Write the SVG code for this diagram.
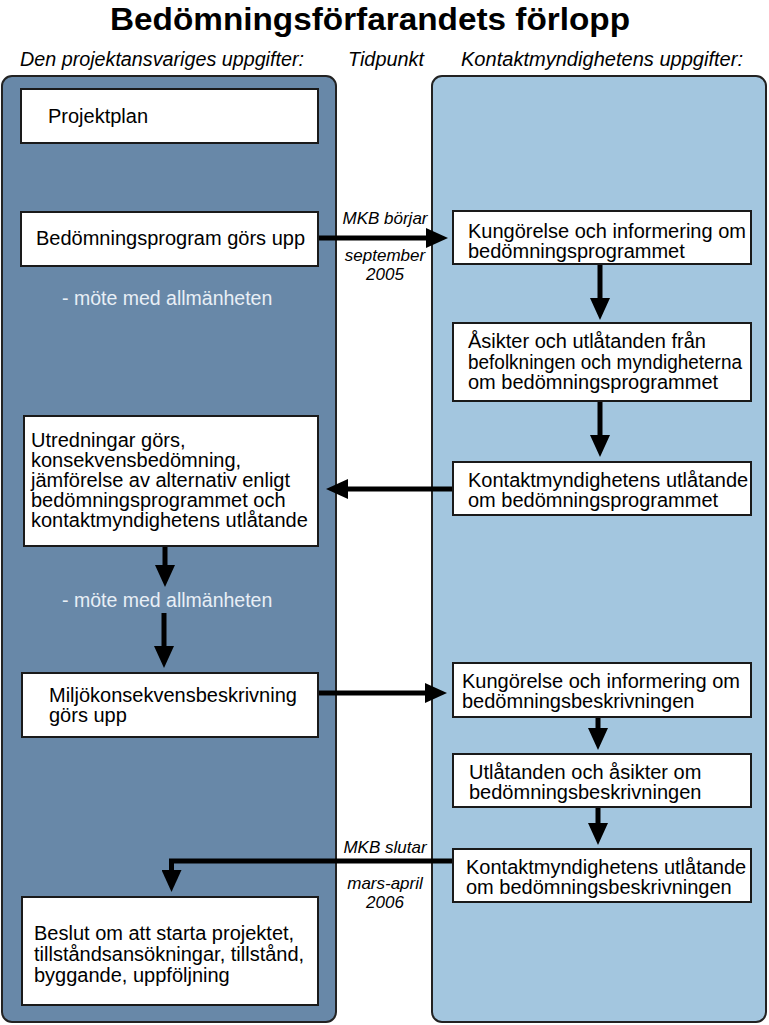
<svg xmlns="http://www.w3.org/2000/svg" width="769" height="1025" viewBox="0 0 769 1025">
<style>
.t{font-family:"Liberation Sans",Arial,sans-serif;font-size:20px;fill:#000}
.h{font-family:"Liberation Sans",Arial,sans-serif;font-size:20px;font-style:italic;fill:#000}
.m{font-family:"Liberation Sans",Arial,sans-serif;font-size:17px;font-style:italic;fill:#000}
.w{font-family:"Liberation Sans",Arial,sans-serif;font-size:19.5px;fill:#e8eff6}
.box{fill:#fff;stroke:#1a1a1a;stroke-width:2}
.c{fill:none;stroke:#000;stroke-width:5}
</style>
<defs>
<marker id="ah" markerUnits="userSpaceOnUse" viewBox="0 0 22 20" refX="1" refY="10" markerWidth="22" markerHeight="20" orient="auto">
<path d="M0,0 L22,10 L0,20 Z" fill="#000"/>
</marker>
</defs>
<rect width="769" height="1025" fill="#fff"/>
<text x="110" y="30" font-family="'Liberation Sans',Arial,sans-serif" font-size="32" font-weight="bold" textLength="520" lengthAdjust="spacingAndGlyphs">Bedömningsförfarandets förlopp</text>
<text class="h" x="20" y="66" textLength="284" lengthAdjust="spacingAndGlyphs">Den projektansvariges uppgifter:</text>
<text class="h" x="348" y="66" textLength="76" lengthAdjust="spacingAndGlyphs">Tidpunkt</text>
<text class="h" x="461" y="66" textLength="282" lengthAdjust="spacingAndGlyphs">Kontaktmyndighetens uppgifter:</text>
<g id="panel-left"><rect x="2" y="76" width="334" height="946" rx="10" fill="#6888a8" stroke="#222" stroke-width="2"/></g>
<g id="panel-right"><rect x="432" y="76" width="334" height="946" rx="10" fill="#a3c6df" stroke="#222" stroke-width="2"/></g>
<g id="connectors">
<path class="c" d="M318,238 H427" marker-end="url(#ah)"/>
<path class="c" d="M600,264 V299" marker-end="url(#ah)"/>
<path class="c" d="M600,401 V436" marker-end="url(#ah)"/>
<path class="c" d="M453,489 H347" marker-end="url(#ah)"/>
<path class="c" d="M165,546 V566" marker-end="url(#ah)"/>
<path class="c" d="M164,613 V647" marker-end="url(#ah)"/>
<path class="c" d="M318,693 H426" marker-end="url(#ah)"/>
<path class="c" d="M598,717 V729" marker-end="url(#ah)"/>
<path class="c" d="M598,807 V824" marker-end="url(#ah)"/>
<path class="c" d="M453,861 H171.5 V871" marker-end="url(#ah)"/>
</g>
<g id="labels">
<text class="m" x="385" y="224" text-anchor="middle">MKB börjar</text>
<text class="m" x="385" y="261" text-anchor="middle">september</text>
<text class="m" x="385" y="280" text-anchor="middle">2005</text>
<text class="m" x="385" y="853" text-anchor="middle">MKB slutar</text>
<text class="m" x="385" y="889" text-anchor="middle">mars-april</text>
<text class="m" x="385" y="908" text-anchor="middle">2006</text>
<text class="w" x="62" y="305">- möte med allmänheten</text>
<text class="w" x="62" y="607">- möte med allmänheten</text>
</g>
<g id="n-projektplan"><rect class="box" x="21" y="89" width="297" height="54"/><text class="t" x="48" y="123">Projektplan</text></g>
<g id="n-bedprog"><rect class="box" x="21" y="212" width="297" height="54"/><text class="t" x="36" y="245">Bedömningsprogram görs upp</text></g>
<g id="n-utredningar"><rect class="box" x="24" y="416" width="294" height="130"/><text class="t"><tspan x="31" y="447">Utredningar görs,</tspan><tspan x="31" y="467">konsekvensbedömning,</tspan><tspan x="31" y="487">jämförelse av alternativ enligt</tspan><tspan x="31" y="507">bedömningsprogrammet och</tspan><tspan x="31" y="527">kontaktmyndighetens utlåtande</tspan></text></g>
<g id="n-miljo"><rect class="box" x="22" y="673" width="296" height="64"/><text class="t"><tspan x="49" y="702">Miljökonsekvensbeskrivning</tspan><tspan x="49" y="722">görs upp</tspan></text></g>
<g id="n-beslut"><rect class="box" x="22" y="897" width="296" height="108"/><text class="t"><tspan x="34" y="940">Beslut om att starta projektet,</tspan><tspan x="34" y="961">tillståndsansökningar, tillstånd,</tspan><tspan x="34" y="982">byggande, uppföljning</tspan></text></g>
<g id="n-kung1"><rect class="box" x="453" y="211" width="298" height="53"/><text class="t"><tspan x="468" y="238">Kungörelse och informering om</tspan><tspan x="468" y="258">bedömningsprogrammet</tspan></text></g>
<g id="n-asikter"><rect class="box" x="453" y="323" width="298" height="78"/><text class="t"><tspan x="468" y="348">Åsikter och utlåtanden från</tspan><tspan x="468" y="369" textLength="274" lengthAdjust="spacingAndGlyphs">befolkningen och myndigheterna</tspan><tspan x="468" y="389">om bedömningsprogrammet</tspan></text></g>
<g id="n-kontakt1"><rect class="box" x="453" y="462" width="298" height="53"/><text class="t"><tspan x="468" y="487">Kontaktmyndighetens utlåtande</tspan><tspan x="468" y="507">om bedömningsprogrammet</tspan></text></g>
<g id="n-kung2"><rect class="box" x="453" y="663" width="298" height="54"/><text class="t"><tspan x="462" y="688">Kungörelse och informering om</tspan><tspan x="462" y="708">bedömningsbeskrivningen</tspan></text></g>
<g id="n-utlat"><rect class="box" x="453" y="754" width="298" height="53"/><text class="t"><tspan x="469" y="779">Utlåtanden och åsikter om</tspan><tspan x="469" y="799">bedömningsbeskrivningen</tspan></text></g>
<g id="n-kontakt2"><rect class="box" x="453" y="849" width="298" height="53"/><text class="t"><tspan x="466" y="874">Kontaktmyndighetens utlåtande</tspan><tspan x="466" y="894">om bedömningsbeskrivningen</tspan></text></g>
</svg>
